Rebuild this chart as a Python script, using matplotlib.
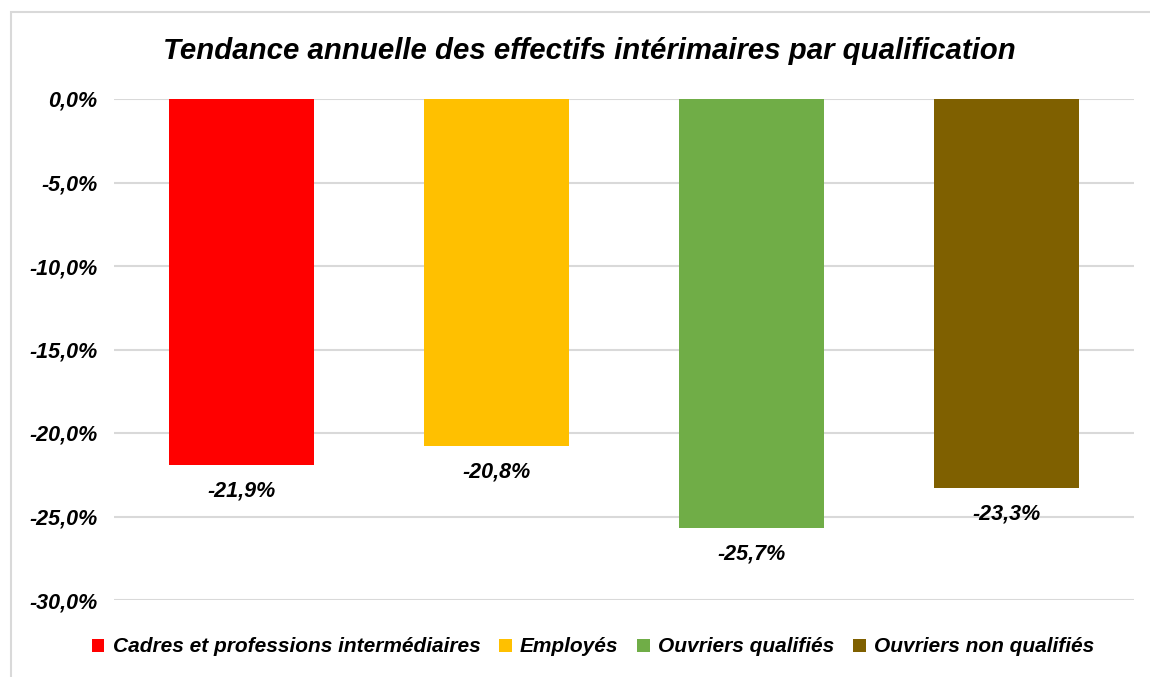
import numpy as np
import matplotlib.pyplot as plt
from matplotlib.patches import Rectangle

plt.rcParams['font.family'] = ['Liberation Sans', 'DejaVu Sans']

categories = ['Cadres et professions intermédiaires', 'Employés',
              'Ouvriers qualifiés', 'Ouvriers non qualifiés']
values = [-21.9, -20.8, -25.7, -23.3]
colors = ['#FF0000', '#FFC000', '#70AD47', '#7F6000']
yticks = [0, -5, -10, -15, -20, -25, -30]

W, H = 1150, 677
fig = plt.figure(figsize=(W / 100, H / 100), dpi=100)
# chart frame
fig.patches.append(Rectangle((11 / W, -0.05), 1.1, (H - 12) / H + 0.05,
                             transform=fig.transFigure, fill=False,
                             edgecolor='#D9D9D9', linewidth=1.5))

ax = fig.add_axes([114 / W, 1 - 600 / H, (1134 - 114) / W, (600 - 99) / H])
x = np.arange(len(categories))
bars = ax.bar(x, values, width=0.57, color=colors, zorder=3)
ax.set_xlim(-0.5, len(categories) - 0.5)
ax.set_ylim(-30, 0)
ax.set_yticks(yticks)
ax.set_yticklabels([('%.1f%%' % v).replace('.', ',') for v in yticks],
                   fontsize=15.5, fontweight='bold', fontstyle='italic')
ax.tick_params(axis='y', length=0, pad=12)
ax.set_xticks([])
ax.grid(axis='y', color='#D9D9D9', linewidth=1.5, zorder=0)
for s in ax.spines.values():
    s.set_visible(False)

for xi, v in zip(x, values):
    ax.annotate(('%.1f%%' % v).replace('.', ','), (xi, v), xytext=(0, -11),
                textcoords='offset points', ha='center', va='top',
                fontsize=15.5, fontweight='bold', fontstyle='italic')

fig.text(589 / W, 1 - 51 / H, 'Tendance annuelle des effectifs intérimaires par qualification',
         ha='center', va='center', fontsize=21.2, fontweight='bold', fontstyle='italic')

fig.legend(bars, categories, loc='center', bbox_to_anchor=(593 / W, 1 - 647 / H),
           ncol=4, frameon=False, handlelength=0.6, handleheight=0.6,
           handletextpad=0.4, columnspacing=0.9,
           prop={'size': 15, 'weight': 'bold', 'style': 'italic'})

fig.savefig('out.png', dpi=100)
